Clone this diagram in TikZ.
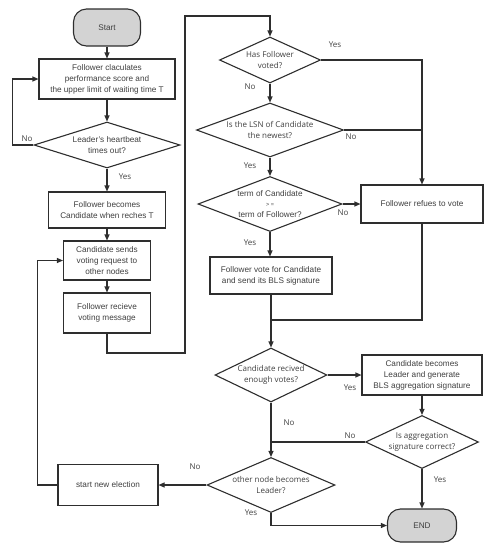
\documentclass[tikz,border=0pt]{standalone}
\usepackage{fontspec}
\setmainfont{Liberation Sans}
\newfontfamily\yh{Open Sans}
\usetikzlibrary{shapes.geometric,arrows.meta}
\definecolor{linec}{HTML}{2E2E2E}
\definecolor{txt}{HTML}{404040}
\definecolor{termfill}{HTML}{D3D3D3}
\begin{document}
\begin{tikzpicture}[x=1pt,y=-1pt,
  line/.style={draw=linec, line width=1.1pt},
  arr/.style={line, -{Triangle[length=6pt,width=5pt]}},
  box/.style={draw=linec, line width=1.1pt, fill=white, text=txt, align=center,
    font=\fontsize{8.2}{11}\selectfont, inner sep=0pt},
  term/.style={box, fill=termfill, rounded corners=13pt},
  dia/.style={draw=linec, line width=1.1pt, fill=white, shape=diamond, inner sep=0pt},
  dtA/.style={text=txt, align=center, font=\fontsize{8.2}{10.5}\selectfont, inner sep=0pt},
  dtB/.style={text=txt, align=center, font=\yh\fontsize{8}{10.5}\selectfont, inner sep=0pt},
  lbl/.style={text=txt, font=\yh\fontsize{8}{9}\selectfont, inner sep=0pt}
]
\useasboundingbox (0,0) rectangle (490,550);

% left column
\node[term, minimum width=67pt, minimum height=37pt] (start) at (107,27.5) {Start};
\node[box, minimum width=136pt, minimum height=40pt] (b1) at (107,79)
  {Follower claculates\\performance score and\\the upper limit of waiting time T};
\node[dia, minimum width=146pt, minimum height=46pt,
  label={[dtA]center:{Leader's heartbeat\\times out?}}] (d1) at (107,145) {};
\node[box, minimum width=117pt, minimum height=36pt] (b2) at (107,210)
  {Follower becomes\\Candidate when reches T};
\node[box, minimum width=87pt, minimum height=39pt] (b3) at (107,260.5)
  {Candidate sends\\voting request to\\other nodes};
\node[box, minimum width=87pt, minimum height=40pt] (b4) at (107,313)
  {Follower recieve\\voting message};
\node[box, minimum width=100pt, minimum height=41pt] (ne) at (108,485)
  {start new election};

% middle column
\node[dia, minimum width=101pt, minimum height=46pt,
  label={[dtB]center:{Has Follower\\voted?}}] (d2) at (270,60) {};
\node[dia, minimum width=147pt, minimum height=54pt,
  label={[dtB]center:{Is the LSN of Candidate\\the newest?}}] (d3) at (270,130) {};
\node[dia, minimum width=144pt, minimum height=55pt,
  label={[dtA]center:{term of Candidate\\{\fontsize{5.5}{6}\selectfont > =}\\term of Follower?}}] (d4) at (270,204) {};
\node[box, minimum width=122pt, minimum height=37pt] (vote) at (271,275.5)
  {Follower vote for Candidate\\and send its BLS signature};
\node[dia, minimum width=112pt, minimum height=54pt,
  label={[dtB]center:{Candidate recived\\enough votes?}}] (d5) at (271,375) {};
\node[dia, minimum width=128pt, minimum height=55pt,
  label={[dtB]center:{other node becomes\\Leader?}}] (d7) at (271,485) {};

% right column
\node[box, minimum width=122pt, minimum height=38pt] (rf) at (422,204)
  {Follower refues to vote};
\node[box, minimum width=120pt, minimum height=40pt] (lead) at (422,375)
  {Candidate becomes\\Leader and generate\\BLS aggregation signature};
\node[dia, minimum width=113pt, minimum height=53pt,
  label={[dtB]center:{Is aggregation\\signature correct?}}] (d6) at (422,442) {};
\node[term, minimum width=69pt, minimum height=33pt] (end) at (422,525.5) {END};

% helper coordinates
\coordinate (loopA) at (185,353);
\coordinate (loopB) at (185,16);
\coordinate (j1) at (271,320);

% connectors
\draw[arr] (start) -- (b1);
\draw[arr] (b1) -- (d1);
\draw[arr] (d1.west) -- ++(-21,0) |- (b1.west);
\draw[arr] (d1) -- (b2);
\draw[arr] (b2) -- (b3);
\draw[arr] (b3) -- (b4);
\draw[arr] (b4.south) |- (loopA) -- (loopB) -| (d2.north);
\draw[arr] (d2.east) -| (rf.north);
\draw[arr] (d2) -- (d3);
\draw[line] (d3.east) -- (d3.east -| rf.north);
\draw[arr] (d3) -- (d4);
\draw[arr] (d4.east) -- (rf.west);
\draw[arr] (d4.south) -- (vote.north -| d4.south);
\draw[line] (rf.south) |- (j1);
\draw[arr] (vote.south) -- (d5.north);
\draw[arr] (d5.east) -- (lead.west);
\draw[arr] (d5) -- (d7);
\draw[arr] (lead) -- (d6);
\draw[line] (d6.west) -- (d6.west -| d5.south);
\draw[arr] (d6) -- (end);
\draw[arr] (d7.south) |- (end.west);
\draw[arr] (d7.west) -- (ne.east);
\draw[arr] (ne.west) -- ++(-20,0) |- (b3.west);

% labels
\node[lbl] (l1) at (27,139) {No};
\node[lbl] (l2) at (125,177) {Yes};
\node[lbl] (l3) at (335,45) {Yes};
\node[lbl] (l4) at (250,87) {No};
\node[lbl] (l5) at (351,137) {No};
\node[lbl] (l6) at (250,166) {Yes};
\node[lbl] (l7) at (343,213) {No};
\node[lbl] (l8) at (250,243) {Yes};
\node[lbl] (l9) at (350,388) {Yes};
\node[lbl] (l10) at (289,423) {No};
\node[lbl] (l11) at (350,436) {No};
\node[lbl] (l12) at (440,480) {Yes};
\node[lbl] (l13) at (251,513) {Yes};
\node[lbl] (l14) at (195,467) {No};
\end{tikzpicture}
\end{document}
